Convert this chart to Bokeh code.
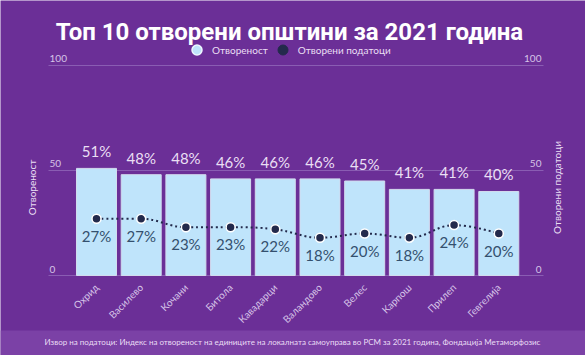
import numpy as np
from math import pi
from bokeh.plotting import figure
from bokeh.models import (Range1d, FixedTicker, Label, BoxAnnotation, Legend,
                          LegendItem, ColumnDataSource, LinearAxis)
from bokeh.core.properties import value
from bokeh.embed import file_html
from bokeh.resources import INLINE

# ---------------- data ----------------
municipalities = ["Охрид", "Василево", "Кочани", "Битола", "Кавадарци",
                  "Валандово", "Велес", "Карпош", "Прилеп", "Гевгелија"]
openness = [51, 48, 48, 46, 46, 46, 45, 41, 41, 40]
open_data = [27, 27, 23, 23, 22, 18, 20, 18, 24, 20]
y_ticks = [0, 50, 100]
series_names = ["Отвореност", "Отворени податоци"]
title_text = "Топ 10 отворени општини за 2021 година"
source_text = ("Извор на податоци: Индекс на отвореност на единиците на локалната "
               "самоуправа во РСМ за 2021 година, Фондација Метаморфозис")

# ---------------- style ----------------
BG = "#6b2f97"
FOOT = "#7b41a6"
GRID = "#8a5db3"
BAR = "#bfe4fb"
NAVY = "#232a4c"
LAV = "#eadff4"
TICK = "#d6c3e7"
INNER = "#34506e"
FONT = "Lato"
TFONT = "Roboto"

x = list(range(len(municipalities)))

# the frame fills the whole picture; the scales put y=0 at 275 px, 2.1 px/unit
p = figure(width=585, height=355,
           x_range=Range1d(-2.1477, 10.94), y_range=Range1d(-38.095, 130.952),
           output_backend="svg", toolbar_location=None,
           x_axis_location=None, y_axis_location=None,
           min_border=0, min_border_left=0, min_border_right=0,
           min_border_top=0, min_border_bottom=0,
           background_fill_color=BG, border_fill_color=BG,
           outline_line_color=None)

# footer band
p.add_layout(BoxAnnotation(top=-26.19, fill_color=FOOT, fill_alpha=1.0,
                           line_color=None, level="underlay"))

# grid
p.xgrid.visible = False
p.ygrid.ticker = FixedTicker(ticks=y_ticks)
p.ygrid.grid_line_color = GRID
p.ygrid.grid_line_width = 1
p.ygrid.cross_bounds = (-1.074, 10.0)

# x axis drawn at y = 0
xaxis = LinearAxis(fixed_location=0, ticker=FixedTicker(ticks=x),
                   major_label_overrides={i: n for i, n in zip(x, municipalities)},
                   major_label_orientation=pi / 4,
                   axis_line_color=None, major_tick_line_color=None,
                   minor_tick_line_color=None,
                   major_label_text_font=FONT,
                   major_label_text_font_size="10px",
                   major_label_text_color=TICK,
                   major_label_standoff=4)
p.add_layout(xaxis, "below")

# tick labels sitting on the gridlines (left and right scale)
p.text(x=[-1.05] * len(y_ticks), y=y_ticks, text=[str(t) for t in y_ticks],
       text_align="left", text_baseline="bottom", y_offset=-3,
       text_font=value(FONT), text_font_size="10px", text_color=TICK)
p.text(x=[9.955] * len(y_ticks), y=y_ticks, text=[str(t) for t in y_ticks],
       text_align="right", text_baseline="bottom", y_offset=-3,
       text_font=value(FONT), text_font_size="10px", text_color=TICK)

# bars
src = ColumnDataSource(dict(x=x, top=openness, od=open_data,
                            tlab=[f"{v}%" for v in openness],
                            olab=[f"{v}%" for v in open_data]))
bars = p.vbar(x="x", top="top", width=0.895, source=src,
              fill_color=BAR, line_color="#d3dbee", line_width=1)
p.text(x="x", y="top", text="tlab", source=src, text_align="center",
       text_baseline="bottom", y_offset=-8, text_font=value(FONT),
       text_font_size="15px", text_color=LAV)

# spline (Highcharts-like) through the open-data points
def spline(xs, ys, smoothing=1.5):
    n = len(xs)
    denom = smoothing + 1
    left = [None] * n
    right = [None] * n
    for i in range(1, n - 1):
        px, py = xs[i], ys[i]
        lx, ly = xs[i - 1], ys[i - 1]
        nx, ny = xs[i + 1], ys[i + 1]
        lcx = (smoothing * px + lx) / denom
        lcy = (smoothing * py + ly) / denom
        rcx = (smoothing * px + nx) / denom
        rcy = (smoothing * py + ny) / denom
        if rcx != lcx:
            corr = ((rcy - lcy) * (rcx - px)) / (rcx - lcx) + py - rcy
            lcy += corr
            rcy += corr
        if lcy > max(ly, py):
            lcy = max(ly, py); rcy = 2 * py - lcy
        elif lcy < min(ly, py):
            lcy = min(ly, py); rcy = 2 * py - lcy
        if rcy > max(py, ny):
            rcy = max(py, ny); lcy = 2 * py - rcy
        elif rcy < min(py, ny):
            rcy = min(py, ny); lcy = 2 * py - rcy
        left[i] = (lcx, lcy)
        right[i] = (rcx, rcy)
    seg = dict(x0=[], y0=[], x1=[], y1=[], cx0=[], cy0=[], cx1=[], cy1=[])
    for i in range(n - 1):
        c0 = right[i] or (xs[i], ys[i])
        c1 = left[i + 1] or (xs[i + 1], ys[i + 1])
        seg["x0"].append(xs[i]); seg["y0"].append(ys[i])
        seg["x1"].append(xs[i + 1]); seg["y1"].append(ys[i + 1])
        seg["cx0"].append(c0[0]); seg["cy0"].append(c0[1])
        seg["cx1"].append(c1[0]); seg["cy1"].append(c1[1])
    return seg

seg = spline(x, open_data)
p.bezier(x0="x0", y0="y0", x1="x1", y1="y1", cx0="cx0", cy0="cy0",
         cx1="cx1", cy1="cy1", source=ColumnDataSource(seg),
         line_color=NAVY, line_width=2, line_dash="2 3")
dots = p.scatter(x="x", y="od", source=src, size=9, marker="circle",
                 fill_color=NAVY, line_color="white", line_width=1.5)
p.text(x="x", y="od", text="olab", source=src, text_align="center",
       text_baseline="top", y_offset=8, text_font=value(FONT),
       text_font_size="15px", text_color=INNER)

# legend (proxy renderers with a single NaN point: only the legend glyph shows)
r1 = p.scatter(x=[np.nan], y=[np.nan], marker="circle",
               fill_color=BAR, line_color="#eef8ff", line_width=1.5)
r2 = p.scatter(x=[np.nan], y=[np.nan], marker="circle",
               fill_color=NAVY, line_color=NAVY)
legend = Legend(items=[LegendItem(label=series_names[0], renderers=[r1]),
                       LegendItem(label=series_names[1], renderers=[r2])],
                orientation="horizontal", location=(184, 293),
                padding=0, margin=0, spacing=2, label_standoff=3,
                glyph_width=25, glyph_height=25, label_height=25,
                label_text_font=FONT, label_text_font_size="10px",
                label_text_color=LAV, background_fill_alpha=0,
                border_line_color=None)
p.add_layout(legend, "center")

# title, axis titles, source
p.add_layout(Label(x=4.318, y=115.95, text=title_text, text_align="center",
                   text_baseline="alphabetic", text_font=TFONT,
                   text_font_style="bold", text_font_size="24px",
                   text_color="white"))
p.add_layout(Label(x=-1.432, y=41.9, text=series_names[0], angle=pi / 2,
                   text_align="center", text_baseline="middle",
                   text_font=FONT, text_font_size="10px", text_color=LAV))
p.add_layout(Label(x=10.31, y=41.9, text=series_names[1], angle=pi / 2,
                   text_align="center", text_baseline="middle",
                   text_font=FONT, text_font_size="10px", text_color=LAV))
p.add_layout(Label(x=4.385, y=-31.67, text=source_text, text_align="center",
                   text_baseline="middle", text_font=FONT,
                   text_font_size="8px", text_color="#eadcf5"))

open("out.html", "w").write(file_html(p, INLINE))
